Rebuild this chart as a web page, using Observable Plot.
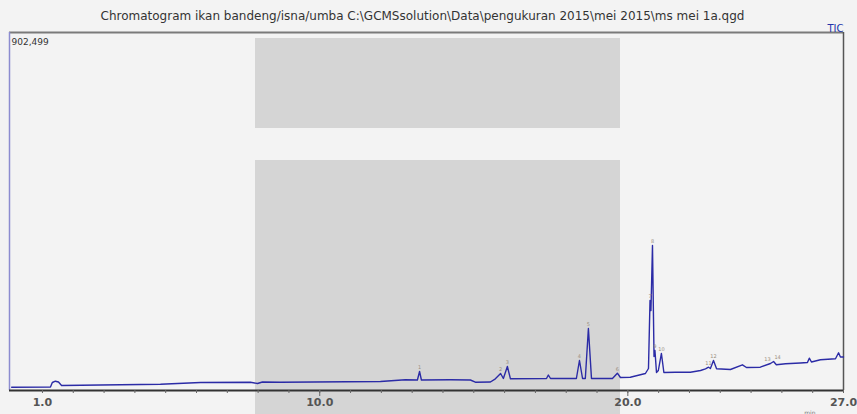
<!DOCTYPE html>
<html><head><meta charset="utf-8">
<script src="https://cdn.jsdelivr.net/npm/d3@7"></script>
<script src="https://cdn.jsdelivr.net/npm/@observablehq/plot@0.6"></script>
<style>
body{margin:0;background:#f3f3f3;width:857px;height:414px;overflow:hidden;position:relative;font-family:"DejaVu Sans",sans-serif}
.wm{position:absolute;background:#d5d5d5}
#chart{position:absolute;left:0;top:0}
</style></head><body>
<div class="wm" style="left:255px;top:38px;width:365px;height:90px"></div>
<div class="wm" style="left:255px;top:160px;width:365px;height:254px"></div>
<div id="chart"></div>
<script>
const chartTitle = "Chromatogram ikan bandeng/isna/umba C:\\GCMSsolution\\Data\\pengukuran 2015\\mei 2015\\ms mei 1a.qgd";
const seriesName = "TIC";
const yMaxLabel = "902,499";
const xUnit = "min";

// retention time (min) and intensity
const retentionTime = [0.0,1.26,1.32,1.42,1.52,1.62,2.88,4.83,6.13,7.75,7.98,8.14,8.72,11.97,12.78,13.17,13.24,13.30,14.24,14.89,15.05,15.54,15.70,15.87,15.96,16.09,16.19,17.36,17.42,17.49,18.33,18.43,18.53,18.62,18.72,18.82,19.50,19.66,19.76,20.08,20.57,20.67,20.72,20.75,20.80,20.85,20.88,20.93,20.99,21.09,21.17,21.54,22.03,22.36,22.52,22.62,22.68,22.78,22.88,23.33,23.72,23.85,24.30,24.63,24.73,24.82,25.12,25.60,25.83,25.89,25.96,26.25,26.74,26.84,26.90,27.0];
const intensity = [8320,8820,20170,23450,21430,12600,13870,15880,20170,20920,17650,21430,20920,22690,26970,26470,47900,26470,26970,26470,20920,21430,29500,42860,30250,60500,29500,30250,39080,30250,30250,75630,30250,30250,156300,30250,30250,43610,32770,33530,42860,55460,226900,201700,365500,85710,100800,45380,50420,93280,45380,46130,46130,50420,54710,58740,55460,75630,54710,52940,64790,57980,58740,68070,73110,64790,67310,69330,70590,81430,71850,77390,79910,95040,84450,84450];

// labelled peaks
const peakTimes = [13.24,15.87,16.09,18.43,18.72,19.66,20.72,20.80,20.88,21.09,22.62,22.78,24.63,24.73];
const peakIntensity = [47900,42860,60500,75630,156300,43610,226900,365500,100800,93280,58740,75630,68070,73110];
const peakNumbers = ["1","2","3","4","5","6","7","8","9","10","11","12","13","14"];

const minorTicks = [1,2,3,4,5,6,7,8,9,10,11,12,13,14,15,16,17,18,19,20,21,22,23,24,25,26,27];
const majorTicks = [10,20];
const labelTicks = [1,10,20,27];
const labelText = ["1.0","10.0","20.0","27.0"];

const trace = retentionTime.map((t,i)=>({t, v:intensity[i]}));
const peaks = peakTimes.map((t,i)=>({t, v:peakIntensity[i], n:peakNumbers[i]}));
const X0 = -0.07, X1 = 27, YMAX = 902499;
const labelStyle = {x: "t", y: "v", text: "n", fontSize: 5, fill: "#9a8f80"};

const chart = Plot.plot({
  width: 857, height: 414,
  marginTop: 32, marginBottom: 24, marginLeft: 9, marginRight: 14,
  style: {background: "transparent", fontFamily: "DejaVu Sans, sans-serif"},
  x: {domain: [X0, X1], label: null},
  y: {domain: [0, YMAX], axis: null},
  marks: [
    Plot.ruleY([YMAX], {stroke: "#7a7a7a", strokeWidth: 2}),
    Plot.ruleX([X0], {stroke: "#8c8cd0", strokeWidth: 1.5}),
    Plot.ruleX([X1], {stroke: "#555", strokeWidth: 1.5}),
    Plot.line(trace, {x: "t", y: "v", stroke: "#2b2ba6", strokeWidth: 1.4}),
    Plot.text(peaks.slice(0, 12), {...labelStyle, dy: -4}),
    Plot.text(peaks.slice(12, 13), {...labelStyle, dy: -4, dx: -3}),
    Plot.text(peaks.slice(13), {...labelStyle, dy: -4, dx: 4}),
    Plot.ruleY([0], {stroke: "#333", strokeWidth: 2}),
    Plot.axisX({ticks: minorTicks, tickSize: 3, tickFormat: () => "", stroke: "#666", label: null}),
    Plot.axisX({ticks: majorTicks, tickSize: 6, tickFormat: () => "", stroke: "#666", label: null}),
    Plot.axisX({ticks: labelTicks, tickSize: 0, tickPadding: 8, tickFormat: d => labelText[labelTicks.indexOf(d)], fontSize: 11, fill: "#555", fontWeight: "bold", label: null}),
    Plot.text([xUnit], {frameAnchor: "bottom-right", dy: 24, dx: -28, fontSize: 6, fill: "#777"}),
    Plot.text([yMaxLabel], {frameAnchor: "top-left", dx: 2, dy: 6, fontSize: 9, fill: "#333", textAnchor: "start"}),
    Plot.text([seriesName], {frameAnchor: "top-right", lineAnchor: "bottom", dy: -1, fontSize: 10, fill: "#2233aa", textAnchor: "end", textDecoration: "underline"}),
    Plot.text([chartTitle], {frameAnchor: "top", lineAnchor: "middle", dx: -4, dy: -16, fontSize: 12, fill: "#333"})
  ]
});
document.getElementById("chart").appendChild(chart);
</script>
</body></html>
